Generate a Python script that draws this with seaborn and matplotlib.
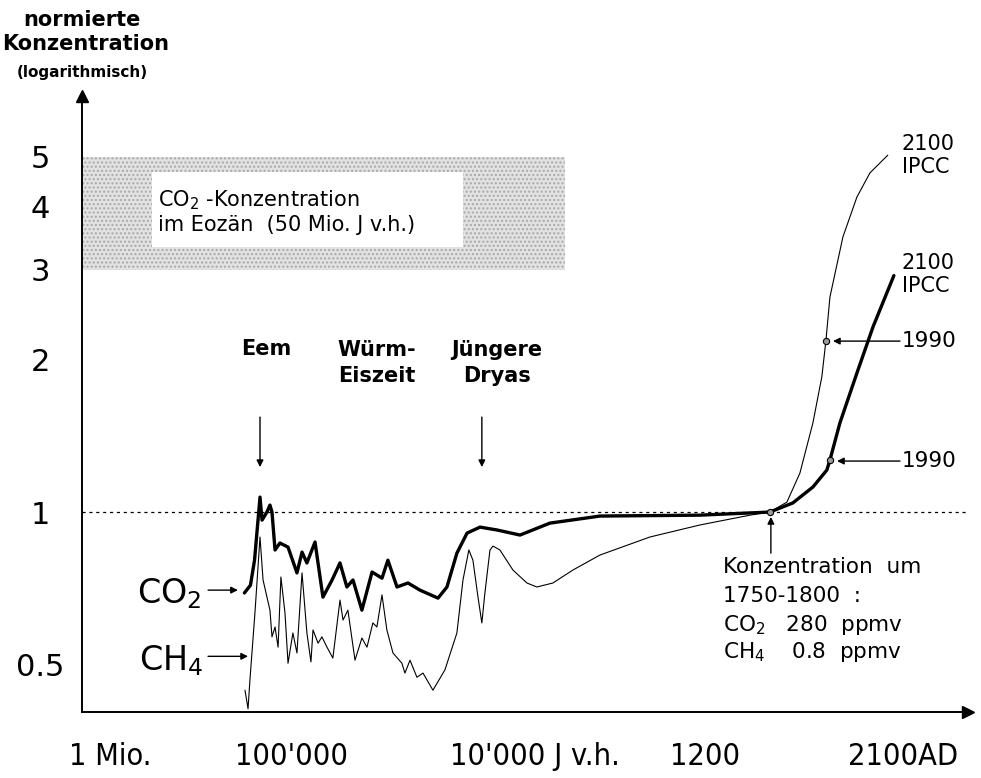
import numpy as np
import pandas as pd
import matplotlib
matplotlib.use("Agg")
import matplotlib.pyplot as plt
import seaborn as sns

sns.set_style("white")
plt.rcParams['font.family'] = ['DejaVu Sans']
plt.rcParams['mathtext.default'] = 'regular'
plt.rcParams['text.color'] = 'black'
plt.rcParams['xtick.color'] = 'black'
plt.rcParams['ytick.color'] = 'black'

# time axis is schematic: 0 = 1 Mio., 1 = 100'000, 2 = 10'000 J v.h., 3 = 1200, 4 = 2100 AD
tick_pos = [0, 1, 2, 3, 4]
tick_labels = ["1 Mio.", "100'000", "10'000 J v.h.", "1200", "2100AD"]

# CO2, normalised to 280 ppmv (thick line)
co2_pos = [0.80, 0.83, 0.85, 0.877, 0.887, 0.911, 0.926, 0.936, 0.951, 0.975,
           1.015, 1.059, 1.084, 1.108, 1.148, 1.187, 1.232, 1.271, 1.305, 1.335,
           1.379, 1.429, 1.478, 1.507, 1.552, 1.606, 1.665, 1.754, 1.798, 1.847,
           1.897, 1.961, 2.044, 2.158, 2.305, 2.552, 3.044, 3.389, 3.502, 3.601,
           3.670, 3.685, 3.734, 3.818, 3.897, 4.0]
co2_val = [0.693, 0.718, 0.804, 1.070, 0.964, 1.0, 1.032, 1.0, 0.842, 0.869,
           0.853, 0.759, 0.834, 0.794, 0.873, 0.680, 0.735, 0.794, 0.712, 0.735,
           0.641, 0.762, 0.741, 0.804, 0.712, 0.725, 0.702, 0.677, 0.712, 0.830,
           0.909, 0.934, 0.922, 0.901, 0.951, 0.982, 0.986, 1.0, 1.042, 1.120,
           1.210, 1.266, 1.497, 1.878, 2.313, 2.92]

# CH4, normalised to 0.8 ppmv (thin line)
ch4_pos = [0.803, 0.818, 0.828, 0.852, 0.877, 0.892, 0.926, 0.936, 0.951, 0.966,
           0.980, 1.000, 1.015, 1.039, 1.059, 1.084, 1.108, 1.128, 1.138, 1.163,
           1.182, 1.207, 1.236, 1.271, 1.286, 1.310, 1.345, 1.379, 1.404, 1.433,
           1.453, 1.478, 1.502, 1.532, 1.576, 1.591, 1.616, 1.650, 1.680, 1.729,
           1.788, 1.847, 1.877, 1.906, 1.926, 1.951, 1.970, 1.985, 2.010, 2.025,
           2.059, 2.123, 2.192, 2.241, 2.320, 2.419, 2.552, 2.798, 3.044, 3.291,
           3.389, 3.473, 3.537, 3.601, 3.645, 3.665, 3.685, 3.749, 3.818, 3.882, 3.970]
ch4_val = [0.446, 0.41, 0.471, 0.633, 0.893, 0.735, 0.641, 0.568, 0.594, 0.542,
           0.745, 0.633, 0.504, 0.578, 0.528, 0.759, 0.578, 0.507, 0.586, 0.552,
           0.568, 0.542, 0.516, 0.671, 0.613, 0.641, 0.511, 0.565, 0.542, 0.605,
           0.594, 0.687, 0.586, 0.528, 0.504, 0.482, 0.511, 0.473, 0.482, 0.446,
           0.489, 0.578, 0.735, 0.842, 0.804, 0.680, 0.605, 0.693, 0.842, 0.857,
           0.842, 0.769, 0.725, 0.712, 0.725, 0.769, 0.823, 0.893, 0.943, 0.986,
           1.0, 1.046, 1.193, 1.497, 1.845, 2.17, 2.65, 3.48, 4.17, 4.65, 5.04]

# marked points: 1750 reference, 1990 CH4, 1990 CO2
mark_pos = [3.389, 3.665, 3.685]
mark_val = [1.0, 2.17, 1.266]

# Eocene CO2 band
eocene_range = [0, 2.38]
eocene_low, eocene_high = 3, 5

co2 = pd.DataFrame({"pos": co2_pos, "val": co2_val})
ch4 = pd.DataFrame({"pos": ch4_pos, "val": ch4_val})

fig = plt.figure(figsize=(9.81, 7.78), dpi=100)
ax = fig.add_axes([0.0836, 0.0848, 0.9031, 0.7918])

ax.set_yscale("log")
ax.set_xlim(0, 4.365)
ax.set_ylim(0.404, 6.59)

# shaded Eocene band with a white label box
ax.fill_between(eocene_range, eocene_low, eocene_high, facecolor="#e2e2e2",
                hatch="....", edgecolor="#a8a8a8", linewidth=0, zorder=1)
ax.fill_between([0.345, 1.877], 3.32, 4.67, color="white", linewidth=0, zorder=2)
ax.text(0.374, 3.90, "CO$_2$ -Konzentration\nim Eozän  (50 Mio. J v.h.)",
        fontsize=15, ha="left", va="center", linespacing=1.2, zorder=3)

ax.axhline(1, color="black", lw=0.9, ls=(0, (2.5, 3)), zorder=2)

sns.lineplot(data=ch4, x="pos", y="val", ax=ax, color="black", linewidth=0.8,
             estimator=None, sort=False, zorder=4)
sns.lineplot(data=co2, x="pos", y="val", ax=ax, color="black", linewidth=2.4,
             estimator=None, sort=False, zorder=5)
ax.plot(mark_pos, mark_val, "o", ms=4.5, mfc="#999999", mec="black", mew=0.8, zorder=6)

# axes look
sns.despine(ax=ax)
for s in ["left", "bottom"]:
    ax.spines[s].set_linewidth(1.4)
    ax.spines[s].set_color("black")
ax.plot(1, 0, ">k", ms=9, transform=ax.transAxes, clip_on=False)
ax.plot(0, 1, "^k", ms=9, transform=ax.transAxes, clip_on=False)

ax.set_yticks([0.5, 1, 2, 3, 4, 5])
ax.set_yticklabels(["0.5", "1", "2", "3", "4", "5"], fontsize=22, ha="center")
ax.yaxis.set_minor_locator(matplotlib.ticker.NullLocator())
ax.tick_params(axis="y", direction="out", length=6, width=1.2, pad=24, colors="black")

ax.set_xticks(tick_pos[1:])
ax.set_xticklabels([])
ax.tick_params(axis="x", direction="out", length=6, width=1.2, colors="black")
label_x = [0.138, 1.034, 2.232, 3.069, 4.044]
for xp, lab in zip(label_x, tick_labels):
    ax.text(xp, -0.073, lab, transform=ax.get_xaxis_transform(), fontsize=22,
            ha="center", va="center", fontstretch="condensed", clip_on=False)
ax.set_xlabel("")
ax.set_ylabel("")

# y axis title
fig.text(82 / 981, 1 - 20 / 778, "normierte", fontsize=15, weight="bold",
         ha="center", va="center")
fig.text(86 / 981, 1 - 44 / 778, "Konzentration", fontsize=15, weight="bold",
         ha="center", va="center")
fig.text(82 / 981, 1 - 72 / 778, "(logarithmisch)", fontsize=11, weight="bold",
         ha="center", va="center")

arrow = dict(arrowstyle="-|>", lw=1.0, color="black", mutation_scale=10,
             shrinkA=0, shrinkB=0)

# periods
ax.text(0.906, 2.094, "Eem", fontsize=15, weight="bold", ha="center", va="center")
ax.text(1.453, 1.965, "Würm-\nEiszeit", fontsize=15, weight="bold", ha="center",
        va="center", linespacing=1.35)
ax.text(2.044, 1.965, "Jüngere\nDryas", fontsize=15, weight="bold", ha="center",
        va="center", linespacing=1.35)
ax.annotate("", xy=(0.877, 1.226), xytext=(0.877, 1.538), arrowprops=arrow)
ax.annotate("", xy=(1.970, 1.226), xytext=(1.970, 1.538), arrowprops=arrow)

# series labels on the left
ax.text(0.429, 0.690, "CO$_2$", fontsize=24, ha="center", va="center")
ax.text(0.438, 0.511, "CH$_4$", fontsize=24, ha="center", va="center")
ax.annotate("", xy=(0.768, 0.702), xytext=(0.621, 0.702), arrowprops=arrow)
ax.annotate("", xy=(0.818, 0.520), xytext=(0.621, 0.520), arrowprops=arrow)

# right side labels
ax.text(4.039, 5.04, "2100\nIPCC", fontsize=15, ha="left", va="center", linespacing=1.2)
ax.text(4.039, 2.93, "2100\nIPCC", fontsize=15, ha="left", va="center", linespacing=1.2)
ax.text(4.039, 2.17, "1990", fontsize=15.5, ha="left", va="center")
ax.text(4.039, 1.26, "1990", fontsize=15.5, ha="left", va="center")
ax.annotate("", xy=(3.70, 2.17), xytext=(4.03, 2.17), arrowprops=arrow)
ax.annotate("", xy=(3.72, 1.26), xytext=(4.03, 1.26), arrowprops=arrow)

# pre-industrial reference
ax.annotate("", xy=(3.394, 0.978), xytext=(3.394, 0.830), arrowprops=arrow)
ax.text(3.158, 0.779, "Konzentration  um", fontsize=15.5, ha="left", va="center")
ax.text(3.158, 0.683, "1750-1800  :", fontsize=15.5, ha="left", va="center")
ax.text(3.158, 0.599, "CO$_2$   280  ppmv", fontsize=15.5, ha="left", va="center")
ax.text(3.158, 0.530, "CH$_4$    0.8  ppmv", fontsize=15.5, ha="left", va="center")

fig.savefig("out.png", dpi=100)
